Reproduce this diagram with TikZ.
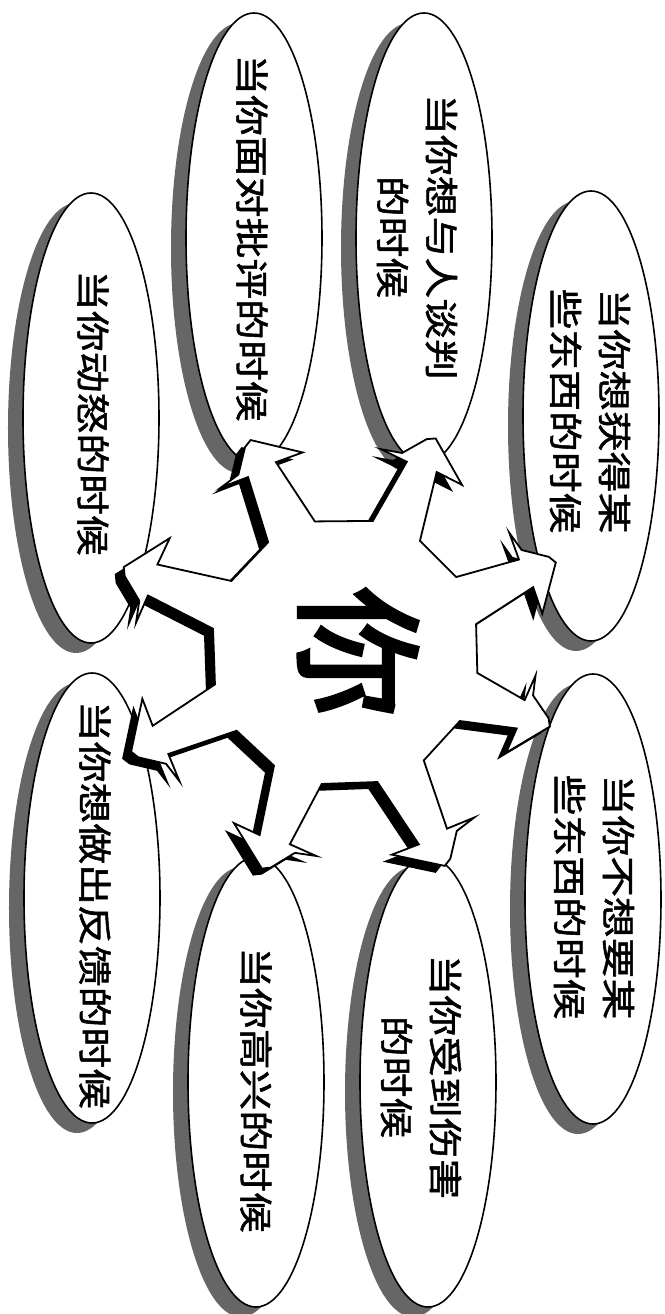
\documentclass[tikz,border=0pt]{standalone}
\usepackage{fontspec}
\usetikzlibrary{calc}
\newfontfamily\cjk{Noto Sans CJK SC}[FakeStretch=1.2, FakeBold=1.6]
\newfontfamily\cjkbig{Noto Sans CJK SC}[FakeBold=3]
% one jagged arrow of the star: direction #1, tip radius #2
\def\prong#1#2{-- ({#1+11}:134) -- ({#1+5}:{#2-32}) -- ({#1+13}:{#2-26}) -- ({#1+7}:{#2-25}) -- ({#1+2}:{#2-4}) -- (#1:#2) -- ({#1-12}:{#2-28}) -- ({#1-4}:{#2-30}) -- ({#1-11}:134)}
\def\starpath{(170:134) \prong{159}{237} \prong{114}{232} \prong{67}{232} \prong{23}{229} \prong{-20}{218} \prong{-65}{236} \prong{-111}{232} \prong{-155}{236} -- cycle}
\tikzset{
  bubble/.style={draw, fill=white, line width=1.6pt},
  bubbleshade/.style={fill=black!60},
  lbl/.style={rotate=-90, align=center, inner sep=0pt, font=\cjk\fontsize{34pt}{49pt}\selectfont},
}

\begin{document}
\begin{tikzpicture}[x=1pt, y=1pt]
	%%%%% START %%%%%
	\useasboundingbox (-345,-662) rectangle (319,652);
	
	\fill[bubbleshade] (-269,224) ellipse [x radius=68pt, y radius=225pt];
	\fill[bubbleshade] (-106,404) ellipse [x radius=68pt, y radius=225pt];
	\fill[bubbleshade] (64,404) ellipse [x radius=68pt, y radius=225pt];
	\fill[bubbleshade] (231,226) ellipse [x radius=68pt, y radius=225pt];
	\fill[bubbleshade] (-268,-256) ellipse [x radius=68pt, y radius=225pt];
	\fill[bubbleshade] (-104,-440) ellipse [x radius=68pt, y radius=225pt];
	\fill[bubbleshade] (68,-440) ellipse [x radius=68pt, y radius=225pt];
	\fill[bubbleshade] (233,-257) ellipse [x radius=68pt, y radius=225pt];
	
	\draw[bubble] (-254,234) ellipse [x radius=68pt, y radius=225pt];
	\draw[bubble] (-91,414) ellipse [x radius=68pt, y radius=225pt];
	\draw[bubble] (79,414) ellipse [x radius=68pt, y radius=225pt];
	\draw[bubble] (246,236) ellipse [x radius=68pt, y radius=225pt];
	\draw[bubble] (-253,-246) ellipse [x radius=68pt, y radius=225pt];
	\draw[bubble] (-89,-430) ellipse [x radius=68pt, y radius=225pt];
	\draw[bubble] (83,-430) ellipse [x radius=68pt, y radius=225pt];
	\draw[bubble] (248,-247) ellipse [x radius=68pt, y radius=225pt];
	
	% star with its eight arrows
	\fill[black, shift={(-9,-7)}] \starpath;
	\draw[fill=white, line width=1.8pt] \starpath;
	\node[rotate=-90, font=\cjkbig\fontsize{130pt}{130pt}\selectfont] (you) at (13,0) {你};
	
	\node[lbl] (angry) at (-252,239) {当你动怒的时候};
	\node[lbl] (critic) at (-93,414) {当你面对批评的时候};
	\node[lbl] (deal) at (72,415) {当你想与人谈判\\的时候};
	\node[lbl] (gain) at (245,241) {当你想获得某\\些东西的时候};
	\node[lbl] (feedback) at (-250,-253) {当你想做出反馈的时候};
	\node[lbl] (happy) at (-89,-438) {当你高兴的时候};
	\node[lbl] (hurt) at (76,-425) {当你受到伤害\\的时候};
	\node[lbl] (refuse) at (249,-245) {当你不想要某\\些东西的时候};
	
	%%%%% END %%%%%
\end{tikzpicture}
\end{document}
